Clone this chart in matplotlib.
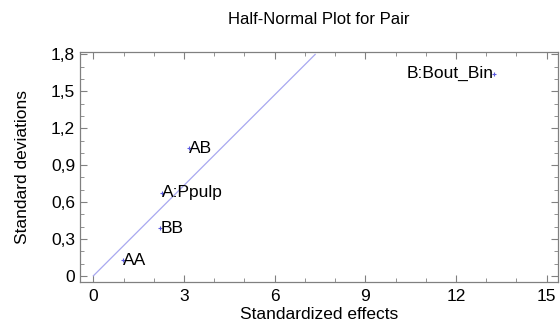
import matplotlib
matplotlib.use("Agg")
import matplotlib.pyplot as plt
from matplotlib.ticker import MultipleLocator, FuncFormatter

plt.rcParams['font.family'] = ['Liberation Sans', 'DejaVu Sans']

# 效应名称、标准化效应、半正态分位数
labels = ["AA", "BB", "A:Ppulp", "AB", "B:Bout_Bin"]
effects = [0.99, 2.22, 2.27, 3.18, 13.25]
devs = [0.126, 0.385, 0.674, 1.036, 1.645]
# 参考线
line_x = [0, 7.34]
line_y = [0, 1.8]

fig = plt.figure(figsize=(5.6, 3.29), dpi=100)
ax = fig.add_axes([0.143, 0.143, 0.853, 0.699])

fs = 12.5
ax.plot(line_x, line_y, color="#a8a8f0", lw=0.9)
ax.plot(effects, devs, ls="none", marker="+", ms=3, mew=0.8, color="#5a5ae0")
for lab, x, y in zip(labels, effects, devs):
    if lab == "B:Bout_Bin":
        ax.text(x, y, lab, fontsize=fs, ha="right", va="center")
    else:
        ax.text(x, y, lab, fontsize=fs, ha="left", va="center")

ax.set_xlim(-0.44, 15.37)
ax.set_ylim(-0.05, 1.82)
ax.xaxis.set_major_locator(MultipleLocator(3))
ax.xaxis.set_minor_locator(MultipleLocator(1))
ax.yaxis.set_major_locator(MultipleLocator(0.3))
ax.yaxis.set_minor_locator(MultipleLocator(0.1))
ax.yaxis.set_major_formatter(FuncFormatter(lambda v, p: ("%g" % round(v, 1)).replace(".", ",")))

for s in ax.spines.values():
    s.set_color("#808080")
    s.set_linewidth(0.9)
ax.tick_params(which="both", direction="in", top=True, right=True, color="#808080", labelsize=fs)
ax.tick_params(which="major", length=5)
ax.tick_params(which="minor", length=3)
ax.tick_params(axis="x", pad=5)

ax.set_xlabel("Standardized effects", fontsize=fs, labelpad=2)
ax.set_ylabel("Standard deviations", fontsize=fs, labelpad=15)
fig.text(0.57, 0.94, "Half-Normal Plot for Pair", fontsize=12, ha="center", va="center")

fig.savefig("out.png", dpi=100)
